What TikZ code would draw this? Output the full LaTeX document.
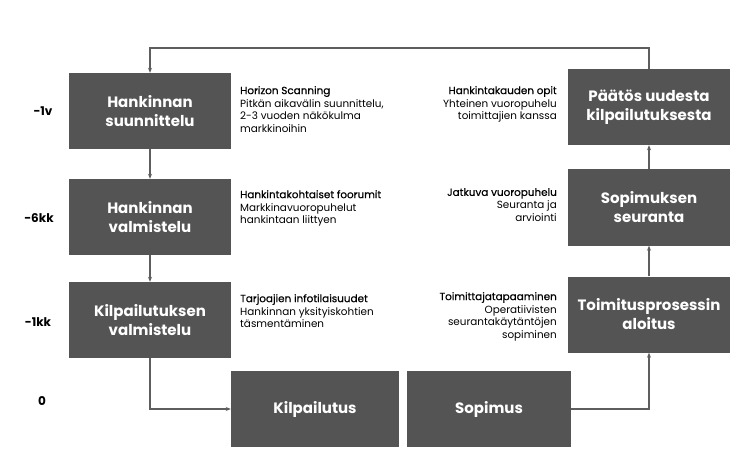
\documentclass[tikz,border=0pt]{standalone}
\usepackage{fontspec}
\setmainfont{Poppins}
\newfontfamily\medfont[FakeBold=0.6]{Poppins}
\usepackage{tikz}
\usetikzlibrary{arrows.meta}
\definecolor{boxgray}{HTML}{545454}
\definecolor{linegray}{HTML}{5E5E5E}
\tikzset{
  phase/.style={fill=boxgray, text=white, minimum width=162pt, minimum height=76pt,
    align=center, font=\fontsize{15}{19}\selectfont\bfseries, inner sep=0pt},
  note/.style={align=left, font=\fontsize{10.4}{12.9}\selectfont, inner sep=0pt, text=black},
  noteR/.style={note, align=right},
  time/.style={font=\fontsize{12}{14}\selectfont\bfseries, inner sep=0pt},
  flow/.style={draw=linegray, line width=1.3pt, -{Stealth[length=5pt,width=4pt]}}
}
\begin{document}
\begin{tikzpicture}[x=1pt, y=-1pt]
		\useasboundingbox (0,0) rectangle (754,454);
		% time axis
		\node(t1)[time] at (43,111){-1v};
		\node(t2)[time] at (39,218){-6kk};
		\node(t3)[time] at (38,322){-1kk};
		\node(t4)[time] at (42,401){0};
		% phases
		\node(hs)[phase] at (150,111){Hankinnan\\suunnittelu};
		\node(hv)[phase] at (150,217){Hankinnan\\valmistelu};
		\node(kv)[phase] at (150,320){Kilpailutuksen\\valmistelu};
		\node(kilp)[phase, minimum width=168pt] at (315,409){Kilpailutus};
		\node(sop)[phase, minimum width=164pt] at (489,409){Sopimus};
		\node(tp)[phase] at (649,314.5){Toimitusprosessin\\aloitus};
		\node(ss)[phase] at (649,207.5){Sopimuksen\\seuranta};
		\node(paatos)[phase] at (649,107){P\"a\"at\"os uudesta\\kilpailutuksesta};
		% notes
		\node(n1)[note, anchor=north west] at (240,86){{\medfont Horizon Scanning}\\Pitk\"an aikav\"alin suunnittelu,\\2-3 vuoden n\"ak\"okulma\\markkinoihin};
		\node(n2)[note, anchor=north west] at (240,190){{\medfont Hankintakohtaiset foorumit}\\Markkinavuoropuhelut\\hankintaan liittyen};
		\node(n3)[note, anchor=north west] at (240,294){{\medfont Tarjoajien infotilaisuudet}\\Hankinnan yksityiskohtien\\t\"asment\"aminen};
		\node(n4)[noteR, anchor=north east] at (557,86){{\medfont Hankintakauden opit}\\Yhteinen vuoropuhelu\\toimittajien kanssa};
		\node(n5)[noteR, anchor=north east] at (557,188){{\medfont Jatkuva vuoropuhelu}\\Seuranta ja\\arviointi};
		\node(n6)[noteR, anchor=north east] at (557,292){{\medfont Toimittajatapaaminen}\\Operatiivisten\\seurantak\"ayt\"ant\"ojen\\sopiminen};
		% connectors
		\coordinate(top) at (400,48);
		\draw[flow](paatos.north) |- (top) -| (hs.north);
		\draw[flow](hs) to (hv);
		\draw[flow](hv) to (kv);
		\draw[flow](kv.south) |- (kilp.west);
		\draw[flow](sop.east) -| (tp.south);
		\draw[flow](tp) to (ss);
		\draw[flow](ss) to (paatos);
	\end{tikzpicture}
\end{document}
